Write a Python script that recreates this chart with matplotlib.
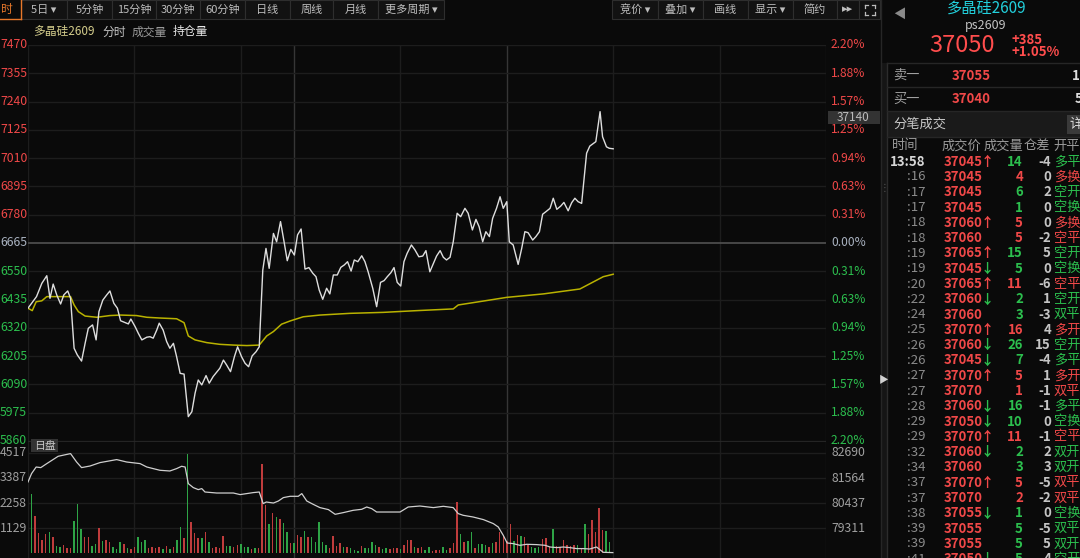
import numpy as np
import matplotlib
matplotlib.use('Agg')
import matplotlib.pyplot as plt
from matplotlib.patches import Rectangle

plt.rcParams['font.family'] = ['Noto Sans CJK SC', 'DejaVu Sans']

# ---- data ----
pre_close = 36665
last_price = 37050
ask_price, bid_price = 37055, 37040
price_levels = [37470, 37355, 37240, 37125, 37010, 36895, 36780, 36665,
                36550, 36435, 36320, 36205, 36090, 35975, 35860]
vol_ticks = [1129, 2258, 3387, 4517]
oi_ticks = [79311, 80437, 81564, 82690]

# minutes counted from 09:00 over trading time (09:00-10:15, 10:30-11:30, 13:30-15:00)
price_min = [0, 2.4, 3.9, 5.3, 6.2, 7.1, 8.1, 9.2, 10.1, 11.2, 12.0, 13.0, 13.9, 15.1, 16.1,
             17.0, 18.2, 19.2, 20.0, 21.1, 22.2, 23.1, 24.2, 25.2, 26.1, 27.1, 28.3, 29.0,
             30.2, 31.1, 32.1, 33.5, 34.4, 35.3, 36.3, 37.0, 38.1, 39.1, 40.0, 41.0, 41.9,
             42.9, 44.0, 45.2, 46.2, 47.1, 48.0, 49.0, 50.2, 51.1, 52.2, 54.1, 55.1, 56.0,
             57.1, 58.2, 59.1, 60.2, 61.2, 62.2, 63.2, 64.3, 65.2,
             66.2, 67.1, 68.0, 69.2, 70.1, 71.2, 72.2, 73.1, 74.1, 75.1, 76.0, 77.0, 78.1,
             79.2, 80.3, 81.2, 82.1, 83.1, 84.2, 85.1, 86.1, 87.2, 88.2, 89.2, 90.1, 91.1,
             92.0, 93.0, 94.1, 95.0, 95.9, 97.2, 98.3, 99.4, 100.4, 101.3, 102.3, 103.2,
             104.1, 105.1, 106.0, 106.9, 108.1, 109.1, 110.2, 111.3, 112.2, 113.3, 114.3,
             115.2, 116.2, 117.1, 118.0, 119.0, 119.9, 121.0, 122.0, 123.2, 124.1, 125.3,
             126.3, 127.2, 128.2, 129.1, 130.1, 131.0, 132.1, 133.1, 134.0, 135.0, 135.7,
             136.8, 138.2, 139.2, 140.1, 141.0, 142.3, 143.2, 144.2, 145.1, 146.0, 147.2,
             148.1, 149.1, 150.2, 151.1, 152.3, 153.3, 154.2, 155.1, 156.1,
             157.5, 158.4, 160.1, 161.3, 162.0, 163.1, 163.9, 165.0]
price = [36400, 36447, 36501, 36532, 36440, 36498, 36454, 36417, 36454, 36470, 36440, 36237,
         36210, 36185, 36257, 36318, 36332, 36271, 36386, 36433, 36454, 36470, 36420, 36400,
         36349, 36343, 36336, 36356, 36325, 36298, 36271, 36282, 36284, 36278, 36311, 36339,
         36311, 36264, 36237, 36257, 36203, 36135, 36132, 35959, 35979, 36054, 36108, 36088,
         36126, 36095, 36122, 36156, 36189, 36169, 36142, 36203, 36243, 36203, 36176, 36162,
         36206, 36223, 36243,
         36555, 36643, 36562, 36704, 36670, 36752, 36670, 36593, 36639, 36616, 36698, 36722,
         36559, 36565, 36542, 36528, 36474, 36436, 36481, 36458, 36535, 36535, 36566, 36576,
         36589, 36551, 36596, 36589, 36613, 36589, 36548, 36481, 36406, 36505, 36512, 36528,
         36544, 36565, 36505, 36490, 36589, 36623, 36657, 36637, 36609, 36612, 36634, 36548,
         36582, 36612, 36634, 36607, 36596, 36607, 36670, 36786, 36772, 36806, 36786, 36718,
         36761, 36731, 36670, 36711, 36691, 36765, 36806, 36853, 36806, 36833, 36670, 36657,
         36578, 36643, 36711, 36707, 36677, 36691, 36711, 36782, 36792, 36806, 36847, 36802,
         36815, 36830, 36796, 36829, 36847, 36833, 36826,
         37030, 37059, 37077, 37199, 37097, 37056, 37050, 37048]

avg_min = [0, 1.2, 2.3, 3.9, 5.3, 12.0, 13.0, 14.2, 16.1, 19.4, 23.1, 26.1, 30.6, 33.5, 37.2,
           41.9, 44.0, 45.2, 47.1, 50.4, 54.1, 57.9, 61.7, 65.2, 67.3, 69.2, 71.5, 73.9, 77.6,
           82.3, 90.8, 100.2, 109.6, 119.9, 121.3, 128.4, 135.0, 145.3, 155.6, 162.2, 165.0]
avg_price = [36400, 36390, 36426, 36430, 36447, 36447, 36413, 36386, 36368, 36363, 36370, 36372,
             36370, 36363, 36360, 36357, 36341, 36287, 36271, 36260, 36253, 36250, 36248, 36250,
             36287, 36305, 36335, 36348, 36365, 36372, 36379, 36383, 36390, 36397, 36413, 36429,
             36444, 36458, 36478, 36528, 36538]

oi_min = [0, 1.0, 2.3, 3.6, 5.3, 8.5, 12.0, 13.7, 15.1, 17.5, 20.3, 25.0, 27.8, 31.6, 33.5,
          37.2, 40.0, 41.9, 43.3, 44.3, 45.2, 46.6, 48.0, 49.0, 49.9, 53.2, 57.9, 59.8, 63.5,
          65.2, 66.3, 67.2, 69.2, 70.6, 72.0, 73.9, 76.2, 77.2, 78.6, 80.4, 82.3, 84.7, 86.6,
          88.9, 91.7, 94.1, 95.5, 96.9, 98.3, 104.9, 107.2, 110.5, 114.3, 117.1, 119.9, 121.3,
          122.7, 125.5, 128.4, 131.2, 132.6, 134.0, 135.1, 136.8, 138.7, 140.6, 143.4, 145.8,
          147.2, 149.1, 150.9, 152.8, 154.7, 156.6, 158.4, 160.3, 162.2, 164.9]
open_interest = [81394, 81769, 82064, 82037, 82216, 82543, 82663, 82288, 82037, 82109, 82261,
                 82395, 82288, 82216, 82064, 81917, 81886, 81993, 82096, 82064, 81322, 81144,
                 81054, 81099, 80947, 80902, 80902, 80831, 80920, 80947, 80429, 80500, 80455,
                 80545, 80697, 80755, 80755, 80876, 80545, 80397, 80250, 80161, 79950, 80026,
                 80129, 80174, 80277, 80205, 80053, 80053, 80277, 80321, 80250, 80308, 80250,
                 79982, 79906, 79830, 79714, 79535, 79383, 79012, 78668, 78641, 78565, 78610,
                 78596, 78565, 78489, 78462, 78489, 78462, 78418, 78418, 78400, 78489, 78252,
                 78239]

# one bar per minute, starting at minute 1
volume = [2658, 1687, 896, 597, 851, 941, 717, 343, 269, 373,
          254, 224, 1463, 2210, 1090, 747, 747, 343, 418, 1150,
          552, 597, 493, 269, 194, 493, 418, 224, 209, 269,
          717, 493, 597, 224, 269, 224, 269, 194, 343, 194,
          299, 597, 1165, 672, 4479, 1389, 896, 672, 672, 941,
          493, 224, 269, 224, 791, 343, 343, 299, 373, 418,
          269, 299, 194, 224, 224, 4001, 2165, 1314, 1836, 1642,
          1523, 1344, 970, 448, 448, 821, 717, 1015, 717, 717,
          493, 1389, 493, 373, 224, 776, 343, 448, 299, 269,
          224, 149, 119, 343, 224, 224, 523, 373, 269, 194,
          224, 194, 224, 224, 194, 373, 597, 597, 269, 224,
          269, 149, 269, 119, 149, 149, 269, 149,
          224, 448, 2314, 866, 523, 552, 941, 224, 418, 418,
          373, 299, 448, 493, 941, 791, 567, 1314, 567, 821,
          791, 747, 373, 299, 224, 269, 642, 702, 299, 1090,
          343, 269, 597, 373, 343, 373, 373, 224, 1314, 866,
          1493, 941, 2060, 1045, 1015, 523]
vol_side = list('grrrrgrggr' 'rrgggrrggr' 'grrgggrgrr' 'gggrrrrgrg' 'rggrgrrrgr'
                'grrrrggrrg' 'ggrgrrrgrg' 'rggrgrrgrg' 'ggggrrrrgr' 'gggrggggrg'
                'grrrgrrrgr' 'rggrrrgg'
                'rrrgrgg' 'rggg' 'rgrrrrrgrgrr' 'ggg' 'rrrg' 'rrrrrrg' 'r' 'g'
                'rrrrrggg')

# 分笔成交 (tick list)
tick_time = ['13:58', ':16', ':17', ':17', ':18', ':18', ':19', ':19', ':20', ':22', ':24',
             ':25', ':26', ':26', ':27', ':27', ':28', ':29', ':29', ':32', ':34', ':37',
             ':37', ':38', ':39', ':39', ':41']
tick_price = [37045, 37045, 37045, 37045, 37060, 37060, 37065, 37045, 37065, 37060, 37060,
              37070, 37060, 37045, 37070, 37070, 37060, 37050, 37070, 37060, 37060, 37070,
              37070, 37055, 37055, 37055, 37050]
tick_dir = ['u', '', '', '', 'u', '', 'u', 'd', 'u', 'd', '', 'u', 'd', 'd', 'u', '', 'd',
            'd', 'u', 'd', '', 'u', '', 'd', '', '', 'd']
tick_vol = [14, 4, 6, 1, 5, 5, 15, 5, 11, 2, 3, 16, 26, 7, 5, 1, 16, 10, 11, 2, 3, 5, 2, 1,
            5, 5, 5]
tick_side = ['g', 'r', 'g', 'g', 'r', 'r', 'g', 'g', 'r', 'g', 'g', 'r', 'g', 'g', 'r', 'r',
             'g', 'g', 'r', 'g', 'g', 'r', 'r', 'g', 'g', 'g', 'g']
tick_oi = [-4, 0, 2, 0, 0, -2, 5, 0, -6, 1, -3, 4, 15, -4, 1, -1, -1, 0, -1, 2, 3, -5, -2, 0,
           -5, 5, 4]
tick_kind = ['多平', '多换', '空开', '空换', '多换', '空平', '空开', '空换', '空平', '空开', '双平',
             '多开', '空开', '多平', '多开', '双平', '多平', '空换', '空平', '双开', '双开', '双平',
             '双平', '空换', '双平', '双开', '空开']

# ---- colours ----
BG = '#0a0a0a'
GRID = '#1d1d1d'
RED = '#f04848'
GREEN = '#2cbf4e'
BAR_RED = '#bf3c3c'
BAR_GREEN = '#2ea446'
side_col = {'r': RED, 'g': GREEN}

W, H = 1080, 558
fig = plt.figure(figsize=(W / 100, H / 100), dpi=100, facecolor=BG)


def box(x0, x1, y0, y1):
    return [x0 / W, 1 - y1 / H, (x1 - x0) / W, (y1 - y0) / H]


def bare(a):
    a.set_facecolor('none')
    for s in a.spines.values():
        s.set_visible(False)
    a.set_xticks([])
    a.set_yticks([])


ax = fig.add_axes(box(28, 826, 45, 441))
vax = fig.add_axes(box(28, 826, 441, 558))
bare(ax)
bare(vax)
ax.set_xlim(0, 225)
ax.set_ylim(35860, 37470)
vax.set_xlim(0, 225)
vax.set_ylim(-202, 5040)

grid_min = [0, 30, 60, 75, 105, 135, 165, 195, 225]
for m in grid_min:
    c = '#363636' if m in (75, 135) else GRID
    ax.axvline(m, color=c, lw=1, zorder=1)
    vax.axvline(m, color=c, lw=1, zorder=1)

for lv in price_levels:
    if lv == pre_close:
        ax.axhline(lv, color='#4c4c4c', lw=1.3, zorder=1)
    else:
        ax.axhline(lv, color=GRID, lw=1, zorder=1)

ax.plot(avg_min, avg_price, color='#b9b200', lw=1.1, zorder=3)
ax.plot(price_min, price, color='#dedede', lw=1.0, zorder=4)

# price / percent labels (the screenshot only shows the last four digits on the left)
ytr = ax.get_yaxis_transform()
for lv in price_levels:
    if lv > pre_close:
        c = RED
    elif lv < pre_close:
        c = GREEN
    else:
        c = '#a9b2c0'
    pct = abs(lv - pre_close) / pre_close * 100
    ax.text(-28 / 798, lv, str(lv)[-4:], transform=ytr, ha='left', va='center', color=c,
            fontsize=8.8)
    ax.text(803 / 798, lv, '%.2f%%' % pct, transform=ytr, ha='left', va='center', color=c,
            fontsize=8.6)

# volume + open interest panel
vax.axhline(5040, color='#2a2a2a', lw=1.2, zorder=1)
for v in vol_ticks:
    vax.axhline(v, color=GRID, lw=1, zorder=1)
vol_min = np.arange(1, len(volume) + 1)
vax.bar(vol_min, volume, width=0.42, color=[BAR_RED if s == 'r' else BAR_GREEN for s in vol_side],
        zorder=2)
oax = vax.twinx()
bare(oax)
oax.set_ylim(77998, 83226)
oax.plot(oi_min, open_interest, color='#cfcfcf', lw=0.9, zorder=3)

vtr = vax.get_yaxis_transform()
for v in vol_ticks:
    vax.text(-28 / 798, v, str(v), transform=vtr, ha='left', va='center', color='#a0a0a0',
             fontsize=8.8)
otr = oax.get_yaxis_transform()
for v in oi_ticks:
    oax.text(803 / 798, v, str(v), transform=otr, ha='left', va='center', color='#a0a0a0',
             fontsize=8.8)

# ---- overlay in pixel coordinates ----
ov = fig.add_axes([0, 0, 1, 1])
ov.set_xlim(0, W)
ov.set_ylim(H, 0)
ov.axis('off')

# toolbar
ov.text(1, 9.5, '时', ha='left', va='center', color='#e8782a', fontsize=8.5)
ov.plot([21, 21], [0, 19], color='#e8782a', lw=1)
ov.plot([0, 21], [19, 19], color='#e8782a', lw=1)
left_buttons = [('5日 ▾', 21, 67), ('5分钟', 67, 112), ('15分钟', 112, 156), ('30分钟', 156, 200),
                ('60分钟', 200, 245), ('日线', 245, 290), ('周线', 290, 333), ('月线', 333, 378),
                ('更多周期 ▾', 378, 444)]
right_buttons = [('竞价 ▾', 612, 658), ('叠加 ▾', 658, 703), ('画线', 703, 748),
                 ('显示 ▾', 748, 793), ('简约', 793, 837), ('▸▸', 837, 859), ('', 859, 880)]
for lab, x0, x1 in left_buttons + right_buttons:
    ov.add_patch(Rectangle((x0, 0), x1 - x0, 19, facecolor='#121212', edgecolor='#2e2e2e', lw=0.8))
    ov.text((x0 + x1) / 2, 9.5, lab, ha='center', va='center', color='#bdbdbd', fontsize=8)
# expand icon
for sx, sy in [(-1, -1), (1, -1), (-1, 1), (1, 1)]:
    cx, cy = 869.5 + sx * 5, 9.5 + sy * 5
    ov.plot([cx, cx - sx * 3], [cy, cy], color='#bdbdbd', lw=0.9)
    ov.plot([cx, cx], [cy, cy - sy * 3], color='#bdbdbd', lw=0.9)

# subtitle row
ov.text(33, 32, '多晶硅2609', ha='left', va='center', color='#d4cd8c', fontsize=8.5)
ov.text(102, 32, '分时', ha='left', va='center', color='#c4c4c4', fontsize=8.5)
ov.text(132, 32, '成交量', ha='left', va='center', color='#9a9a9a', fontsize=8.5)
ov.text(173, 32, '持仓量', ha='left', va='center', color='#e6e6e6', fontsize=8.5)

# 日盘 tag and hover price box
ov.add_patch(Rectangle((31, 439), 27, 13, facecolor='#333333', edgecolor='none'))
ov.text(44.5, 445.5, '日盘', ha='center', va='center', color='#c8c8c8', fontsize=7.8)
ov.add_patch(Rectangle((828, 111), 52, 13, facecolor='#333333', edgecolor='none'))
ov.text(853, 117.5, '37140', ha='center', va='center', color='#bbbbbb', fontsize=8.5)

# right panel frame
ov.plot([881, 881], [0, H], color='#262626', lw=1)
ov.add_patch(Rectangle((881, 63), 6, H - 63, facecolor='#151515', edgecolor='none'))
ov.plot([887, 887], [63, H], color='#2c2c2c', lw=1)
ov.text(884, 188, '⋮', ha='center', va='center', color='#555555', fontsize=7)
ov.text(884, 380, '▶', ha='center', va='center', color='#d0d0d0', fontsize=7)

chg = last_price - pre_close
ov.text(899, 14, '◀', ha='center', va='center', color='#8a8a8a', fontsize=9)
ov.text(987, 8, '多晶硅2609', ha='center', va='center', color='#22d0dc', fontsize=11)
ov.text(986, 26, 'ps2609', ha='center', va='center', color='#c2c2c2', fontsize=9)
ov.text(929, 45, str(last_price), ha='left', va='center', color='#ff4d4d', fontsize=17)
ov.text(1011, 39.5, '%+d' % chg, ha='left', va='center', color='#ff4d4d', fontsize=9.5,
        fontweight='bold')
ov.text(1011, 52, '%+.2f%%' % (chg / pre_close * 100), ha='left', va='center', color='#ff4d4d',
        fontsize=9.5, fontweight='bold')

for yy in [63, 87, 111, 137]:
    ov.plot([887, W], [yy, yy], color='#262626', lw=1)
ov.text(893, 75.5, '卖一', ha='left', va='center', color='#a0a0a0', fontsize=9.5)
ov.text(952, 75.5, str(ask_price), ha='left', va='center', color=RED, fontsize=9.5,
        fontweight='bold')
ov.text(1072, 75.5, '11', ha='left', va='center', color='#e0e0e0', fontsize=9.5, fontweight='bold')
ov.text(893, 99, '买一', ha='left', va='center', color='#a0a0a0', fontsize=9.5)
ov.text(952, 99, str(bid_price), ha='left', va='center', color=RED, fontsize=9.5,
        fontweight='bold')
ov.text(1075, 99, '5', ha='left', va='center', color='#e0e0e0', fontsize=9.5, fontweight='bold')

ov.add_patch(Rectangle((888, 112), W - 888, 25, facecolor='#1a1a1a', edgecolor='none'))
ov.text(893, 124.5, '分笔成交', ha='left', va='center', color='#c8c8c8', fontsize=9.5)
ov.add_patch(Rectangle((1067, 115), 13, 19, facecolor='#3a3a3a', edgecolor='none'))
ov.text(1069, 124.5, '详', ha='left', va='center', color='#dddddd', fontsize=9.5)

for lab, xx in [('时间', 892), ('成交价', 942), ('成交量', 984), ('仓差', 1024), ('开平', 1053)]:
    ov.text(xx, 146, lab, ha='left', va='center', color='#9a9a9a', fontsize=9.5)

for i in range(len(tick_time)):
    yy = 161.7 + i * 15.29
    tc = '#d6d6d6' if i == 0 else '#8c8c8c'
    ov.text(925, yy, tick_time[i], ha='right', va='center', color=tc, fontsize=9.5,
            fontweight='bold' if i == 0 else 'normal')
    ov.text(944, yy, str(tick_price[i]), ha='left', va='center', color=RED, fontsize=9.5,
            fontweight='bold')
    if tick_dir[i] == 'u':
        ov.text(981, yy, '↑', ha='left', va='center', color=RED, fontsize=9.5, fontweight='bold')
    elif tick_dir[i] == 'd':
        ov.text(981, yy, '↓', ha='left', va='center', color=GREEN, fontsize=9.5, fontweight='bold')
    sc = side_col[tick_side[i]]
    ov.text(1023, yy, str(tick_vol[i]), ha='right', va='center', color=sc, fontsize=9.5,
            fontweight='bold')
    ov.text(1051, yy, str(tick_oi[i]), ha='right', va='center', color='#c4c4c4', fontsize=9.5,
            fontweight='bold')
    ov.text(1054, yy, tick_kind[i], ha='left', va='center', color=sc, fontsize=9.5)

fig.savefig('out.png', dpi=100, facecolor=BG)
